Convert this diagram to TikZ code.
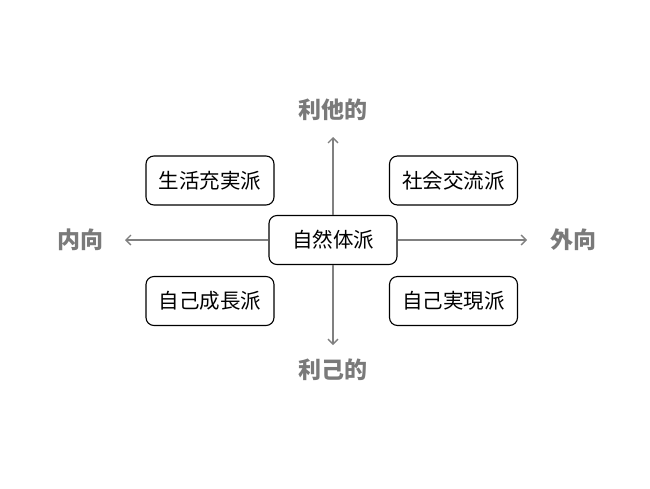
\documentclass[tikz,border=0pt]{standalone}
\usepackage{fontspec}
\newfontfamily\cjk{Noto Sans CJK JP}
\usetikzlibrary{arrows.meta}
\definecolor{axisgray}{HTML}{808080}
\definecolor{labelgray}{HTML}{7A7A7A}
\begin{document}
\begin{tikzpicture}[x=1pt,y=-1pt,
  box/.style={draw=black,line width=1.1pt,rounded corners=8pt,minimum width=128pt,minimum height=49pt,font=\cjk\fontsize{20.5}{24}\selectfont,inner sep=0pt,fill=white},
  axislabel/.style={font=\cjk\bfseries\fontsize{23}{26}\selectfont,text=labelgray},
  axis/.style={draw=axisgray,line width=1.3pt,-{Straight Barb[length=5pt,width=10pt]}}]
\useasboundingbox (0,0) rectangle (650,488);
\node[box] (c) at (333,240) {自然体派};
\node[box] (tl) at (210,180.5) {生活充実派};
\node[box] (tr) at (453.5,180.5) {社会交流派};
\node[box] (bl) at (210,301) {自己成長派};
\node[box] (br) at (453.5,301) {自己実現派};
\coordinate (top) at (333,137);
\coordinate (bot) at (333,345);
\coordinate (lft) at (125,240);
\coordinate (rgt) at (527,240);
\draw[axis] (c.north) -- (top);
\draw[axis] (c.south) -- (bot);
\draw[axis] (c.west) -- (lft);
\draw[axis] (c.east) -- (rgt);
\node[axislabel] (t) at (333,110) {利他的};
\node[axislabel] (b) at (333,370) {利己的};
\node[axislabel] (l) at (80,240) {内向};
\node[axislabel] (r) at (573,240) {外向};
\end{tikzpicture}
\end{document}
